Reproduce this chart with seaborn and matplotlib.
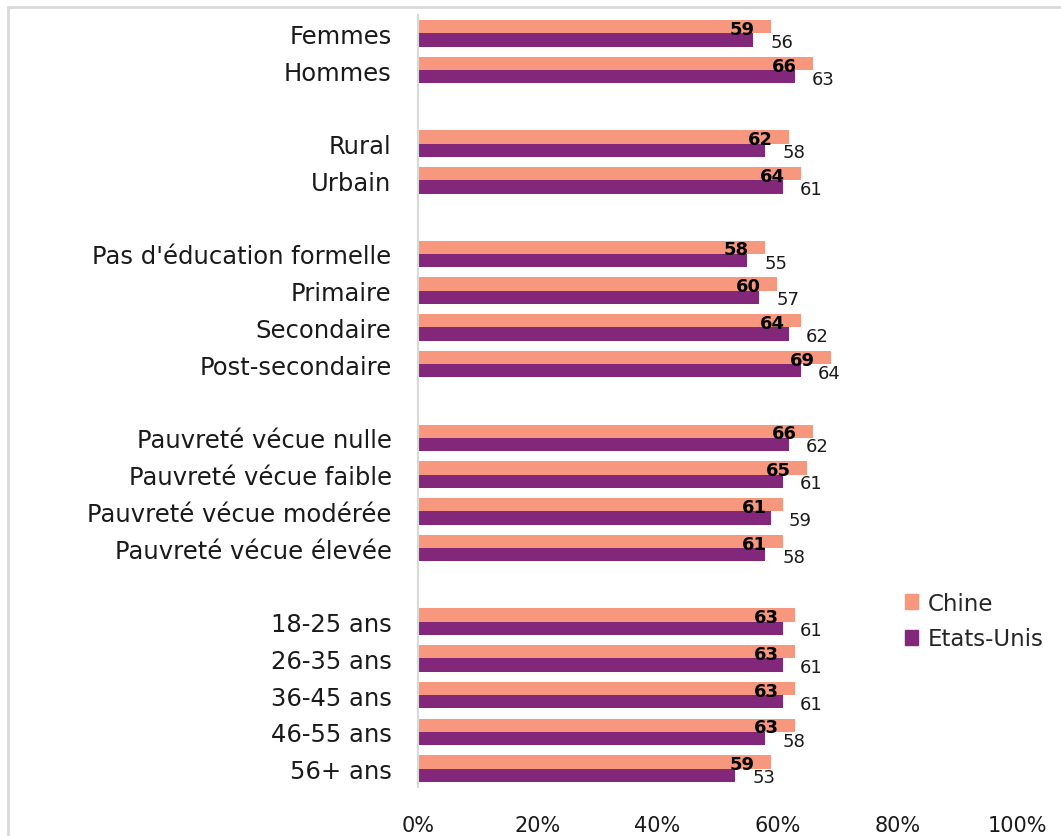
import matplotlib
matplotlib.use("Agg")
import matplotlib.pyplot as plt
import matplotlib.patches as mpatches
import seaborn as sns
import pandas as pd

categories = [
    "Femmes", "Hommes",
    "Rural", "Urbain",
    "Pas d'éducation formelle", "Primaire", "Secondaire", "Post-secondaire",
    "Pauvreté vécue nulle", "Pauvreté vécue faible", "Pauvreté vécue modérée",
    "Pauvreté vécue élevée",
    "18-25 ans", "26-35 ans", "36-45 ans", "46-55 ans", "56+ ans",
]
chine = [59, 66, 62, 64, 58, 60, 64, 69, 66, 65, 61, 61, 63, 63, 63, 63, 59]
etats_unis = [56, 63, 58, 61, 55, 57, 62, 64, 62, 61, 59, 58, 61, 61, 61, 58, 53]
series = ["Chine", "Etats-Unis"]
colors = ["#F7987E", "#83277A"]
x_ticks = [0, 20, 40, 60, 80, 100]

# groups separated by an empty row
groups = [2, 2, 4, 4, 5]
order = []
i = 0
for g_idx, g in enumerate(groups):
    order.extend(categories[i:i + g])
    i += g
    if g_idx < len(groups) - 1:
        order.append(" " * (g_idx + 1))

df = pd.DataFrame({
    "cat": categories * 2,
    "val": chine + etats_unis,
    "serie": [series[0]] * len(categories) + [series[1]] * len(categories),
})

sns.set_style("white")
plt.rcParams["font.family"] = ["DejaVu Sans"]

fig = plt.figure(figsize=(10.61, 8.37), dpi=100)
ax = fig.add_axes([418 / 1061, 1 - 788 / 837, (1017 - 418) / 1061, (788 - 16) / 837])

sns.barplot(data=df, x="val", y="cat", hue="serie", order=order,
            hue_order=series, palette=colors, width=0.72, orient="h",
            saturation=1, linewidth=0, ax=ax, legend=False)

ax.set_xlim(0, 100)
ax.set_ylim(len(order) - 0.5, -0.5)
ax.set_xticks(x_ticks)
ax.set_xticklabels([f"{t}%" for t in x_ticks], fontsize=15, color="#1a1a1a")
ax.tick_params(axis="x", length=0, pad=20)
ax.tick_params(axis="y", length=0, pad=19, labelsize=17.5, labelcolor="#1a1a1a")
ax.set_xlabel("")
ax.set_ylabel("")
for s in ["top", "right", "bottom"]:
    ax.spines[s].set_visible(False)
ax.spines["left"].set_color("#D9D9D9")
ax.spines["left"].set_linewidth(1.5)

# value labels
ypos = {c: order.index(c) for c in categories}
for c, vc, vu in zip(categories, chine, etats_unis):
    y = ypos[c]
    ax.annotate(f"{vc}", (vc, y - 0.72 / 4), xytext=(-12, -1.5),
                textcoords="offset points", ha="right", va="center",
                fontsize=13, fontweight="bold", color="black")
    ax.annotate(f"{vu}", (vu, y + 0.72 / 4), xytext=(12, -1.5),
                textcoords="offset points", ha="left", va="center",
                fontsize=13, color="#1a1a1a")

handles = [mpatches.Patch(color=c, label=s) for c, s in zip(colors, series)]
fig.legend(handles=handles, loc="center left",
           bbox_to_anchor=(884 / 1061, 1 - 622 / 837), frameon=False,
           fontsize=16.5, handlelength=0.6, handleheight=0.6,
           handletextpad=0.4, labelspacing=0.55)

# outer frame
fig.patches.append(mpatches.Rectangle((8 / 1061, -0.1), 1.2, 1 - 8 / 837 + 0.1,
                                      transform=fig.transFigure, fill=False,
                                      edgecolor="#D9D9D9", linewidth=2))

fig.savefig("out.png", dpi=100)
